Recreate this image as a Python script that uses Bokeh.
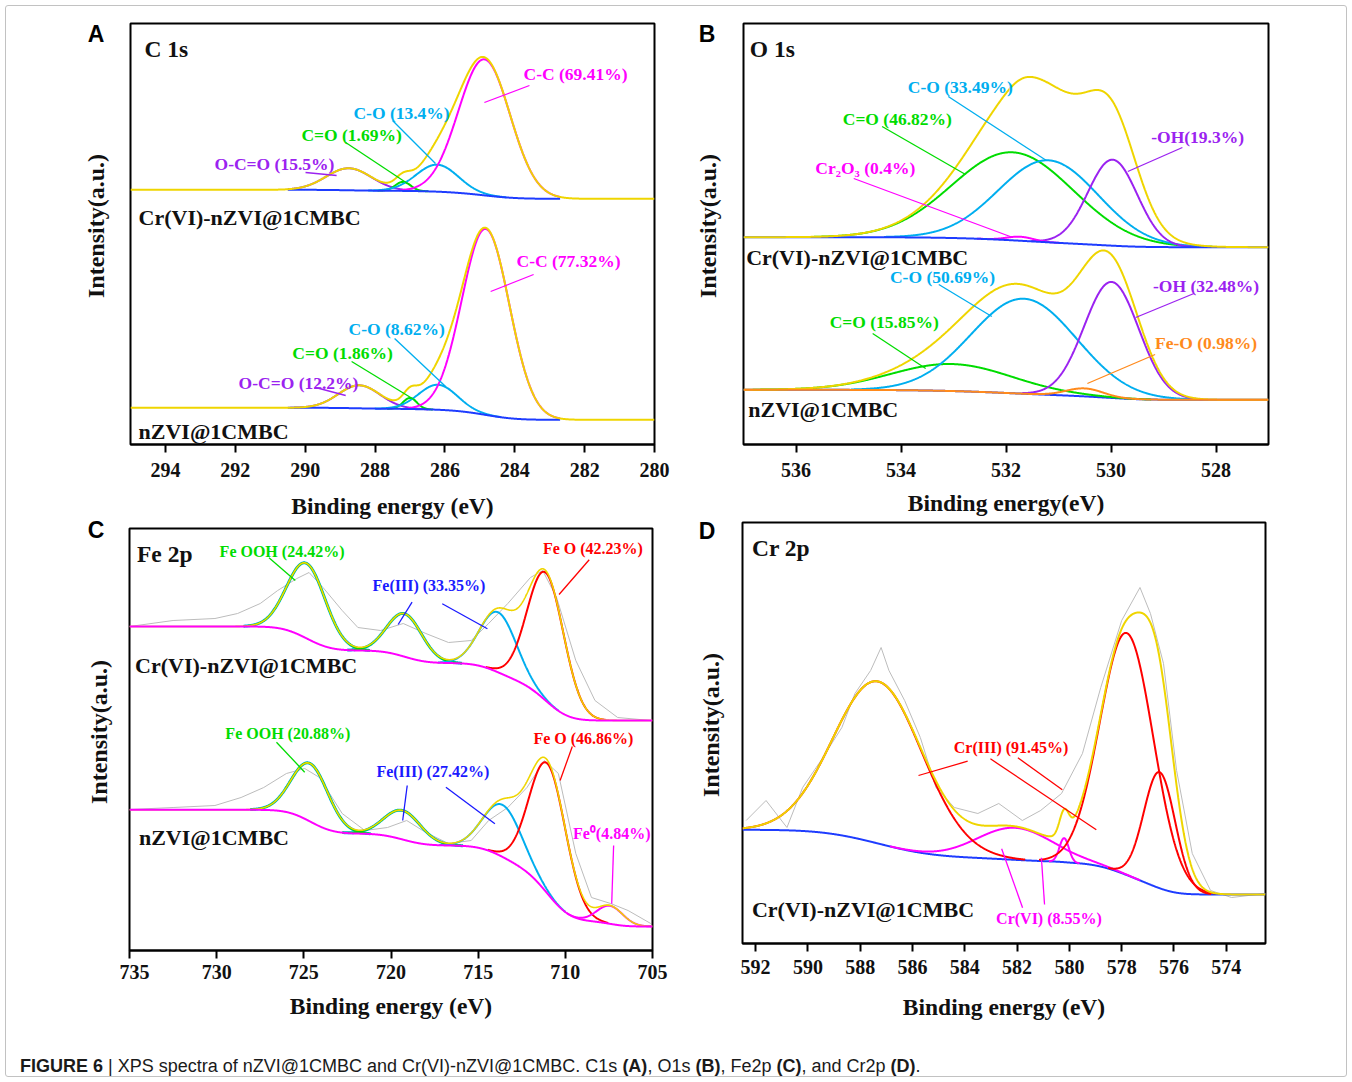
import numpy as np
from bokeh.plotting import figure
from bokeh.models import Range1d, FixedTicker, Label, Div
from bokeh.layouts import column, row
from bokeh.embed import file_html
from bokeh.resources import INLINE

SERIF = "Liberation Serif"
YEL = "#efd500"; MAG = "#ff00ff"; CYA = "#00aeef"; GRN = "#00dc00"; PUR = "#9b22f0"
BLU = "#1e3cff"; RED = "#ff0000"; ORA = "#ff8a1c"; DBL = "#1a1aff"; GRY = "#bcbcbc"; BLK = "#111111"

# ---------------- DATA ----------------
# Panel A : C 1s  -- peak centre (eV), height (counts above baseline), sigma (eV)
a_ticks = [294, 292, 290, 288, 286, 284, 282, 280]
a_cr_center = [288.75, 287.2, 286.22, 284.87]      # O-C=O, C=O, C-O, C-C
a_cr_height = [22, 9, 27, 136]
a_cr_sigma = [0.65, 0.22, 0.6, 0.74]
a_cr_bg = [254.7, 245.7]                            # baseline high-BE / low-BE level
a_nz_center = [288.45, 287.0, 286.2, 284.83]
a_nz_height = [23, 11, 25, 186]
a_nz_sigma = [0.6, 0.2, 0.55, 0.68]
a_nz_bg = [36.7, 24.7]
a_colors = [PUR, GRN, CYA, MAG]

# Panel B : O 1s
b_ticks = [536, 534, 532, 530, 528]
b_cr_center = [531.87, 531.19, 529.97, 531.73]      # C=O, C-O, -OH, Cr2O3
b_cr_height = [88, 82, 86, 4]
b_cr_sigma = [1.15, 0.95, 0.47, 0.25]
b_cr_bg = [207.3, 197.3]
b_cr_colors = [GRN, CYA, PUR, MAG]
b_nz_center = [533.03, 531.66, 529.99, 530.5]       # C=O, C-O, -OH, Fe-O
b_nz_height = [27, 95, 116, 8]
b_nz_sigma = [1.15, 1.0, 0.52, 0.35]
b_nz_bg = [54.7, 44.7]
b_nz_colors = [GRN, CYA, PUR, ORA]

# Panel C : Fe 2p
c_ticks = [735, 730, 725, 720, 715, 710, 705]
c_cr_center = [724.84, 719.22, 713.86, 711.12]      # FeOOH, satellite, Fe(III), FeO
c_cr_height = [75, 43, 60, 128]
c_cr_sigma = [1.1, 1.0, 1.05, 1.05]
c_cr_bg = [324, 230]
c_nz_center = [724.63, 719.33, 713.6, 711.0, 707.44]  # + Fe0
c_nz_height = [58, 29, 52, 130, 18]
c_nz_sigma = [1.05, 1.05, 1.1, 1.05, 0.75]
c_nz_bg = [140.7, 24]
c_cr_raw_e = [735, 732.5, 730.1, 728.8, 727.5, 726.5, 725.4, 724.7, 723.9, 722.8, 721.9, 720.6,
              719.3, 718.0, 716.7, 715.4, 714.4, 713.3, 712.0, 711.3, 710.5, 709.4, 708.3, 707.0, 705.1]
c_cr_raw_i = [324, 330, 332, 337, 347, 360, 372, 378, 363, 340, 323, 320,
              327, 317, 308, 310, 327, 347, 373, 380, 353, 290, 250, 233, 230]
c_nz_raw_e = [735, 732.5, 730.1, 728.6, 727.3, 726.0, 724.95, 724.1, 722.8, 721.5, 720.2, 719.1,
              718.0, 716.7, 715.4, 714.4, 713.3, 712.2, 711.2, 710.4, 709.4, 708.5, 707.4, 706.4, 705.1]
c_nz_raw_i = [141, 143, 145, 153, 163, 177, 182, 173, 137, 120, 123, 130,
              118, 107, 110, 130, 143, 163, 190, 177, 97, 53, 47, 40, 27]

# Panel D : Cr 2p
d_ticks = [592, 590, 588, 586, 584, 582, 580, 578, 576, 574]
d_center = [587.3, 577.8, 576.55, 582.08, 580.2]    # Cr(III) x3, Cr(VI) x2
d_height = [162, 242, 116, 32, 24]
d_sigma = [1.7, 1.02, 0.6, 1.45, 0.18]
d_colors = [RED, RED, RED, MAG, MAG]
d_bg = [113.7, 49]
d_raw_e = [592.36, 591.6, 590.8, 590.2, 589.5, 588.7, 588.2, 587.6, 587.2, 586.9, 586.3, 585.7,
           585.1, 584.4, 583.5, 582.7, 581.8, 581.1, 580.3, 579.5, 578.8, 578.0, 577.3, 576.9,
           576.4, 575.9, 575.3, 574.6, 573.8, 572.5]
d_raw_i = [123, 143, 116, 156, 183, 216, 250, 273, 296, 273, 243, 206,
           156, 136, 130, 140, 123, 133, 150, 190, 256, 323, 356, 330,
           280, 173, 90, 53, 46, 50]


def peak(E, c, h, s):
    return h * np.exp(-0.5 * ((E - c) / s) ** 2)


def fit(E, centers, heights, sigmas, bg):
    comps = [peak(E, c, h, s) for c, h, s in zip(centers, heights, sigmas)]
    tot = np.sum(comps, axis=0)
    cum = np.cumsum(tot)
    base = bg[1] + (bg[0] - bg[1]) * cum / cum[-1]   # Shirley-type step
    return comps, base, base + tot


def make_fig(w, h, xr, yr, bl, br, bt, bb, ticks, xlabel, tick_so, xlab_so):
    p = figure(width=w, height=h, x_range=Range1d(*xr), y_range=Range1d(*yr),
               output_backend="svg", toolbar_location=None,
               min_border_left=bl, min_border_right=br, min_border_top=bt, min_border_bottom=bb,
               background_fill_color="white", border_fill_color=None)
    p.grid.visible = False
    p.outline_line_color = "black"
    p.outline_line_width = 2
    xa = p.xaxis[0]
    xa.ticker = FixedTicker(ticks=ticks)
    xa.major_tick_out = 8
    xa.major_tick_in = 0
    xa.major_tick_line_width = 2
    xa.minor_tick_line_color = None
    xa.axis_line_width = 2
    xa.major_label_text_font = SERIF
    xa.major_label_text_font_style = "bold"
    xa.major_label_text_font_size = "20px"
    xa.major_label_text_color = BLK
    xa.major_label_standoff = tick_so
    xa.axis_label = xlabel
    xa.axis_label_text_font = SERIF
    xa.axis_label_text_font_style = "bold"
    xa.axis_label_text_font_size = "23.5px"
    xa.axis_label_text_color = BLK
    xa.axis_label_standoff = xlab_so
    p.yaxis.visible = False
    return p


def side_div(w, h, letter, lx, ly, yx, yy):
    # strip left of a panel: the panel letter and the intensity axis title
    html = (f'<div style="position:relative;width:{w}px;height:{h}px;overflow:visible;">'
            f'<span style="position:absolute;left:{lx}px;top:{ly}px;transform:translate(-50%,-50%);'
            f"font-family:'Liberation Sans',Arial,sans-serif;font-weight:bold;font-size:23px;"
            f'color:#000;line-height:1;">{letter}</span>'
            f'<span style="position:absolute;left:{yx}px;top:{yy}px;'
            f'transform:translate(-50%,-50%) rotate(-90deg);white-space:nowrap;'
            f"font-family:'Liberation Serif',serif;font-weight:bold;font-size:24px;"
            f'color:#111;line-height:1;">Intensity(a.u.)</span></div>')
    return Div(text=html, width=w, height=h, margin=0)


def add_labels(p, labels):
    for t, x, y, col, size, align in labels:
        p.add_layout(Label(x=x, y=y, text=t, text_color=col, text_font=SERIF,
                           text_font_style="bold", text_font_size=f"{size}px",
                           text_align=align, text_baseline="middle"))


def add_leaders(p, leaders):
    p.segment(x0=[l[0] for l in leaders], y0=[l[1] for l in leaders],
              x1=[l[2] for l in leaders], y1=[l[3] for l in leaders],
              line_color=[l[4] for l in leaders], line_width=1.3)


def comp_lines(p, E, comps, base, centers, sigmas, colors, win, width=2):
    for comp, c, s, col in zip(comps, centers, sigmas, colors):
        m = win & (np.abs(E - c) <= 3.3 * s)
        p.line(E[m], (base + comp)[m], line_color=col, line_width=width)


LS = 17.5  # peak-label size, panels A/B

# ---------------- Panel A ----------------
dA = side_div(120, 521, "A", 96, 34, 96, 226)
pA = make_fig(556, 521, (295, 280), (0, 421), 10, 22, 23, 77, a_ticks, "Binding energy (eV)", 10, 13)
EA = np.linspace(280, 295, 1500)
winA = (EA >= 282.7) & (EA <= 290.5)
for cen, hei, sig, bg in [(a_cr_center, a_cr_height, a_cr_sigma, a_cr_bg),
                          (a_nz_center, a_nz_height, a_nz_sigma, a_nz_bg)]:
    comps, base, env = fit(EA, cen, hei, sig, bg)
    comp_lines(pA, EA, comps, base, cen, sig, a_colors, winA)
    pA.line(EA[winA], base[winA], line_color=BLU, line_width=2)
    pA.line(EA, env, line_color=YEL, line_width=2)
add_leaders(pA, [(283.58, 359, 284.87, 342, MAG), (287.50, 324, 286.27, 281, CYA),
                 (288.84, 302, 287.07, 261, GRN), (289.99, 272, 289.10, 269, PUR),
                 (283.46, 170, 284.69, 153, MAG), (287.44, 106, 285.98, 58, CYA),
                 (288.67, 83, 286.84, 44, GRN), (289.70, 57, 288.84, 49, PUR)])
add_labels(pA, [("C 1s", 294.6, 396, BLK, 23.5, "left"),
                ("C-C (69.41%)", 282.26, 371, MAG, LS, "center"),
                ("C-O (13.4%)", 287.24, 332, CYA, LS, "center"),
                ("C=O (1.69%)", 288.67, 310, GRN, LS, "center"),
                ("O-C=O (15.5%)", 290.88, 281, PUR, LS, "center"),
                ("Cr(VI)-nZVI@1CMBC", 294.77, 227, BLK, 22, "left"),
                ("C-C (77.32%)", 282.46, 184, MAG, LS, "center"),
                ("C-O (8.62%)", 287.38, 116, CYA, LS, "center"),
                ("C=O (1.86%)", 288.93, 92, GRN, LS, "center"),
                ("O-C=O (12.2%)", 290.19, 62, PUR, LS, "center"),
                ("nZVI@1CMBC", 294.77, 13, BLK, 22, "left")])

# ---------------- Panel B ----------------
dB = side_div(57, 521, "B", 31, 34, 32, 226)
pB = make_fig(619, 521, (537, 527), (0, 421), 10, 84, 23, 77, b_ticks, "Binding energy(eV)", 10, 10)
EB = np.linspace(527, 537, 1200)
allB = np.ones_like(EB, dtype=bool)
comps, base, env = fit(EB, b_cr_center, b_cr_height, b_cr_sigma, b_cr_bg)
comp_lines(pB, EB, comps, base, b_cr_center, b_cr_sigma, b_cr_colors, allB)
pB.line(EB, base, line_color=BLU, line_width=2)
pB.line(EB, env, line_color=YEL, line_width=2)
comps, base, env = fit(EB, b_nz_center, b_nz_height, b_nz_sigma, b_nz_bg)
pB.line(EB, base, line_color=BLU, line_width=2)
comp_lines(pB, EB, comps[:3], base, b_nz_center[:3], b_nz_sigma[:3], b_nz_colors[:3], allB)
pB.line(EB, env, line_color=YEL, line_width=2)
pB.line(EB, base + comps[3], line_color=ORA, line_width=2)
add_leaders(pB, [(533.10, 348, 531.23, 284, CYA), (534.36, 318, 532.77, 270, GRN),
                 (534.90, 266, 531.87, 207, MAG), (528.64, 297, 529.68, 273, PUR),
                 (533.28, 160, 532.27, 128, CYA), (534.54, 111, 533.53, 76, GRN),
                 (528.42, 151, 529.53, 127, PUR), (529.16, 90, 530.45, 61, ORA)])
add_labels(pB, [("O 1s", 536.88, 396, BLK, 23.5, "left"),
                ("C-O (33.49%)", 532.87, 358, CYA, LS, "center"),
                ("C=O (46.82%)", 534.07, 326, GRN, LS, "center"),
                ("Cr\u2082O\u2083 (0.4%)", 534.68, 277, MAG, LS, "center"),
                ("-OH(19.3%)", 528.35, 308, PUR, LS, "center"),
                ("Cr(VI)-nZVI@1CMBC", 536.95, 187, BLK, 22, "left"),
                ("C-O (50.69%)", 533.21, 168, CYA, LS, "center"),
                ("C=O (15.85%)", 534.32, 123, GRN, LS, "center"),
                ("-OH (32.48%)", 528.19, 159, PUR, LS, "center"),
                ("Fe-O (0.98%)", 528.19, 102, ORA, LS, "center"),
                ("nZVI@1CMBC", 536.91, 35, BLK, 22, "left")])

# ---------------- Panel C ----------------
dC = side_div(119, 504, "C", 96, 9, 99, 211)
pC = make_fig(557, 504, (735, 705), (0, 422), 10, 24, 7, 75, c_ticks, "Binding energy (eV)", 6, 11)
EC = np.linspace(705, 735, 1500)
allC = np.ones_like(EC, dtype=bool)
for cen, hei, sig, bg, re, ri, cols in [
        (c_cr_center, c_cr_height, c_cr_sigma, c_cr_bg, c_cr_raw_e, c_cr_raw_i, [GRN, GRN, CYA, RED]),
        (c_nz_center, c_nz_height, c_nz_sigma, c_nz_bg, c_nz_raw_e, c_nz_raw_i, [GRN, GRN, CYA, RED, MAG])]:
    pC.line(re, ri, line_color=GRY, line_width=1)
    comps, base, env = fit(EC, cen, hei, sig, bg)
    comp_lines(pC, EC, comps[:2], base, cen[:2], sig[:2], [CYA, CYA], allC, width=3)
    comp_lines(pC, EC, comps, base, cen, sig, cols, allC)
    pC.line(EC, env, line_color=YEL, line_width=1.6)
    pC.line(EC, base, line_color=MAG, line_width=2)
add_leaders(pC, [(727.0, 392.7, 725.49, 370, GRN), (718.79, 348.3, 719.59, 326, DBL),
                 (717.06, 346.7, 714.47, 321.7, DBL), (708.63, 390.7, 710.36, 356, RED),
                 (726.57, 208.3, 724.95, 178.3, GRN), (719.07, 165, 719.33, 130, DBL),
                 (716.85, 163.3, 714.04, 126.7, DBL), (709.6, 204, 710.3, 170, RED),
                 (707.23, 105, 707.34, 46.7, MAG)])
add_labels(pC, [("Fe 2p", 734.57, 397, BLK, 23.5, "left"),
                ("Fe OOH (24.42%)", 726.25, 399, GRN, 16, "center"),
                ("Fe(III) (33.35%)", 717.82, 365, DBL, 16, "center"),
                ("Fe O (42.23%)", 708.42, 402, RED, 16, "center"),
                ("Cr(VI)-nZVI@1CMBC", 734.68, 285, BLK, 22, "left"),
                ("Fe OOH (20.88%)", 725.92, 217, GRN, 16, "center"),
                ("Fe(III) (27.42%)", 717.6, 179, DBL, 16, "center"),
                ("Fe O (46.86%)", 708.96, 212, RED, 16, "center"),
                ("Fe\u2070(4.84%)", 707.34, 117, MAG, 16, "center"),
                ("nZVI@1CMBC", 734.46, 113, BLK, 22, "left")])

# ---------------- Panel D ----------------
dD = side_div(56, 504, "D", 31, 10, 35, 204)
pD = make_fig(620, 504, (592.5, 572.5), (0, 421), 10, 87, 1, 82, d_ticks, "Binding energy (eV)", 8, 17)
ED = np.linspace(572.5, 592.5, 1500)
allD = np.ones_like(ED, dtype=bool)
pD.line(d_raw_e, d_raw_i, line_color=GRY, line_width=1)
comps, base, env = fit(ED, d_center, d_height, d_sigma, d_bg)
pD.line(ED, base, line_color=BLU, line_width=2)
comp_lines(pD, ED, comps[3:], base, d_center[3:], d_sigma[3:], d_colors[3:], allD)
comp_lines(pD, ED, comps[:3], base, d_center[:3], d_sigma[:3], d_colors[:3], allD)
pD.line(ED, env, line_color=YEL, line_width=2)
add_leaders(pD, [(583.89, 182.3, 585.77, 168, RED), (583.02, 184.7, 578.97, 113.7, RED),
                 (581.97, 185.7, 580.27, 153.7, RED), (581.79, 35.7, 582.59, 94.7, MAG),
                 (580.95, 39, 581.07, 85.7, MAG)])
add_labels(pD, [("Cr 2p", 592.14, 396, BLK, 23.5, "left"),
                ("Cr(III) (91.45%)", 582.23, 196, RED, 16, "center"),
                ("Cr(VI) (8.55%)", 580.78, 25, MAG, 16, "center"),
                ("Cr(VI)-nZVI@1CMBC", 592.14, 34, BLK, 22, "left")])

cap = Div(text=('<div style="font-family:\'Liberation Sans\',Arial,sans-serif;font-size:18px;'
                'color:#1a1a1a;padding:29px 0 0 20px;white-space:nowrap;">'
                '<b>FIGURE 6</b> | XPS spectra of nZVI@1CMBC and Cr(VI)-nZVI@1CMBC. '
                'C1s <b>(A)</b>, O1s <b>(B)</b>, Fe2p <b>(C)</b>, and Cr2p <b>(D)</b>.</div>'),
          width=1352, height=57, margin=0)

layout = column(row(row(dA, pA), row(dB, pB)),
                row(row(dC, pC), row(dD, pD)),
                cap,
                styles={"outline": "1px solid #c2c2c2", "outline-offset": "-6px",
                        "border-radius": "8px"})
open("out.html", "w").write(file_html(layout, INLINE))
